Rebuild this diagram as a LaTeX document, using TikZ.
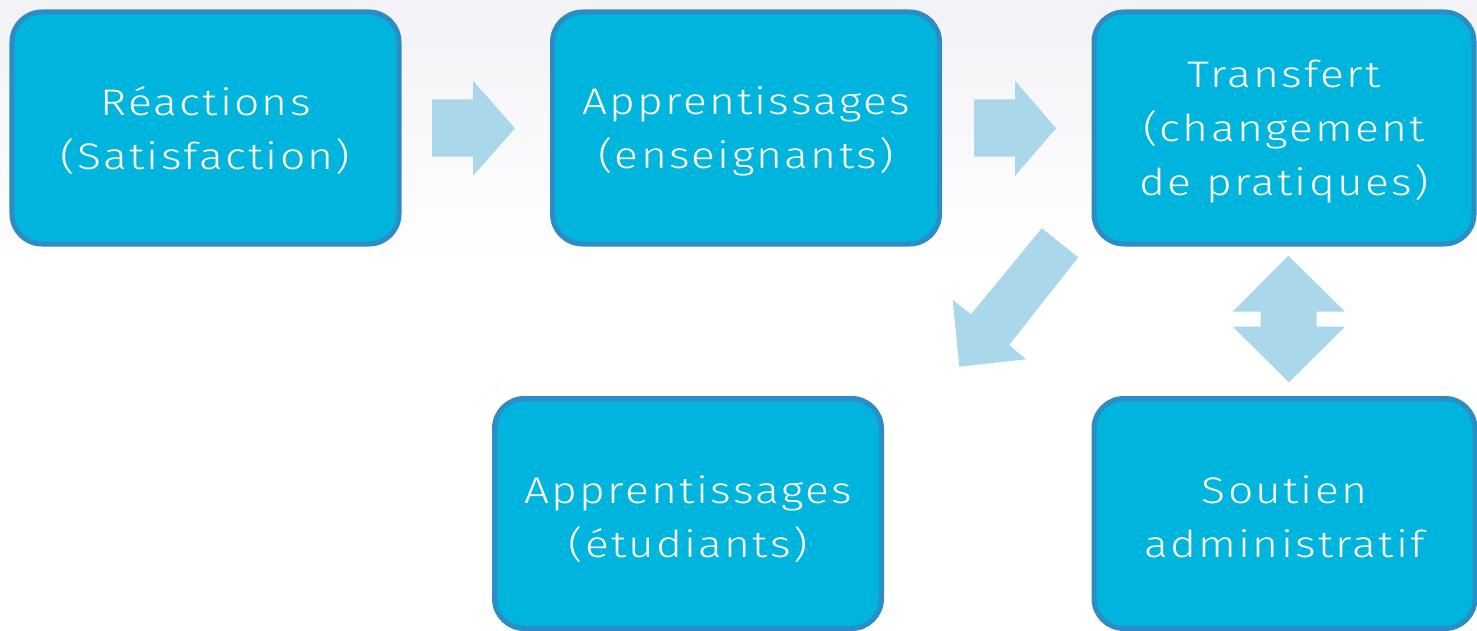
\documentclass[tikz,border=0pt]{standalone}
\usepackage{fontspec}
\setmainfont{Fira Sans}[UprightFont=* Light, LetterSpace=6, FakeStretch=1.2]
\definecolor{boxfill}{HTML}{00B5DD}
\definecolor{boxline}{HTML}{2B8DC4}
\definecolor{arrowfill}{HTML}{ABD7EB}
\definecolor{bgtop}{HTML}{F2F2F7}
\begin{document}
\begin{tikzpicture}[x=1bp,y=-1bp,
  box/.style={draw=boxline, line width=5bp, fill=boxfill, rounded corners=30bp,
    inner sep=0pt, minimum height=232bp},
  lbl/.style={text=white, align=center, font=\fontsize{37bp}{54bp}\selectfont, inner sep=0pt},
  blockarrow/.style={fill=arrowfill, draw=none}]
\useasboundingbox (0,0) rectangle (1477,631);
\fill[white] (0,0) rectangle (1477,631);
\shade[top color=bgtop, bottom color=white, draw=none] (0,0) rectangle (1477,260);
% boxes
\node[box, minimum width=387bp] (reac) at (205.5,128) {};
\node[box, minimum width=387bp] (appE) at (746,128) {};
\node[box, minimum width=380bp] (trans) at (1284,128) {};
\node[box, minimum width=387bp, minimum height=230bp] (appS) at (688,513.5) {};
\node[box, minimum width=381bp, minimum height=230bp] (sout) at (1284.5,513.5) {};
% labels
\node[lbl] (reacT) at ([yshift=-3bp]reac.center) {Réactions\\(Satisfaction)};
\node[lbl] (appET) at ([yshift=-3bp]appE.center) {Apprentissages\\(enseignants)};
\node[lbl] (transT) at ([yshift=-4bp]trans.center) {Transfert\\(changement\\de pratiques)};
\node[lbl] (appST) at ([yshift=-6bp]appS.center) {Apprentissages\\(étudiants)};
\node[lbl] (soutT) at ([yshift=-3bp]sout.center) {Soutien\\administratif};
% block arrows
\fill[blockarrow] (432,99.3) -- (473,99.3) -- (473,80.7) -- (515,128.3) -- (473,176) -- (473,156.7) -- (432,156.7) -- cycle;
\fill[blockarrow] (974,99.3) -- (1015,99.3) -- (1015,80.7) -- (1056,128.3) -- (1015,176) -- (1015,156.7) -- (974,156.7) -- cycle;
\fill[blockarrow] (1041.7,228.3) -- (1078.3,257.3) -- (1009,345) -- (1026,359.3) -- (959.3,366.7) -- (952.7,300) -- (971,314.3) -- cycle;
\fill[blockarrow] (1288.3,255.7) -- (1345,311.7) -- (1316.7,311.7) -- (1316.7,326.7) -- (1345,326.7) -- (1289,382.3) -- (1232.7,326.7) -- (1260.7,326.7) -- (1260.7,311.7) -- (1232.7,311.7) -- cycle;
\end{tikzpicture}
\end{document}
